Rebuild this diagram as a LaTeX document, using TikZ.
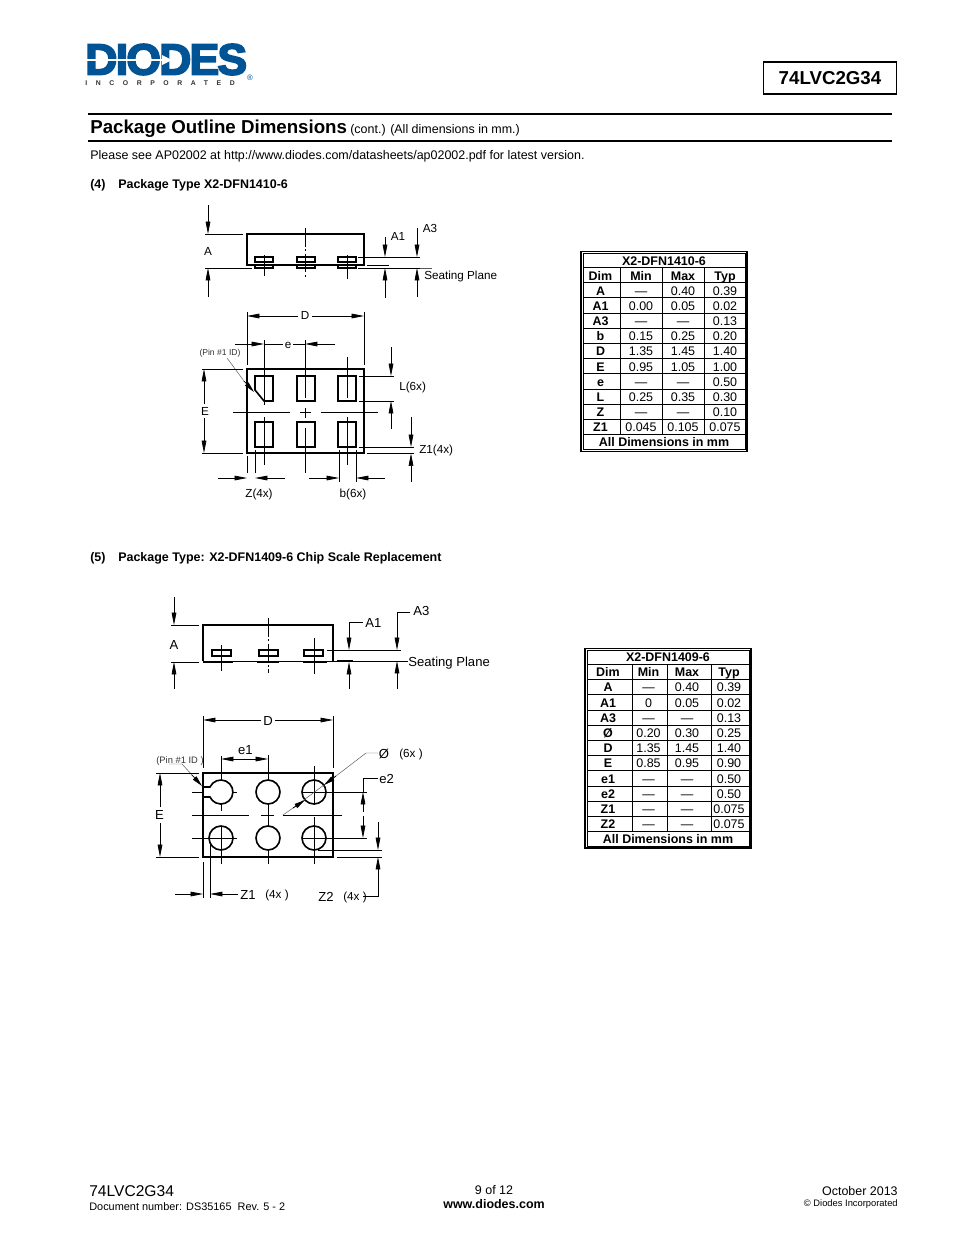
\documentclass[tikz,border=0pt]{standalone}
\usepackage{fontspec}
\setmainfont{Liberation Sans}
\newfontfamily\logofont[BoldFeatures={FakeBold=4,LetterSpace=-4}]{Liberation Sans}
\newfontfamily\logosub[BoldFeatures={LetterSpace=125}]{Liberation Sans}
\usetikzlibrary{arrows.meta}
\definecolor{logoblue}{RGB}{0,84,150}
\tikzstyle{dimline}=[-{Triangle[length=8pt,width=3pt]},line width=.45pt]
\tikzstyle{tipline}=[-{Triangle[length=7pt,width=3pt]},line width=.45pt]
\tikzstyle{thinline}=[line width=.45pt]
\tikzstyle{outline}=[line width=1.3pt]
\tikzstyle{padline}=[line width=1.05pt]
\tikzstyle{leader}=[line width=.3pt,black!65]
\tikzstyle{dimlabel}=[font=\fontsize{7.5}{9}\selectfont,inner sep=0pt,yshift=-.7pt]
\tikzstyle{bigdimlabel}=[font=\fontsize{8.4}{10}\selectfont,inner sep=0pt,yshift=-.7pt]
\tikzstyle{pintext}=[font=\fontsize{5.5}{6}\selectfont,inner sep=0pt,yshift=-.7pt]
\tikzstyle{cell}=[font=\fontsize{8}{9}\selectfont,inner sep=0pt,anchor=base]
\tikzstyle{headcell}=[font=\fontsize{8}{9}\selectfont\bfseries,inner sep=0pt,anchor=base]
\tikzstyle{pagetext}=[anchor=west,inner sep=0pt,yshift=-.7pt]
\begin{document}
\begin{tikzpicture}[x=0.6415pt,y=-0.6415pt]
    \path[use as bounding box,fill=white] (0,0) rectangle (954,1235);

    % logo
    \node[inner sep=0pt,anchor=west,text=logoblue,xscale=1.02,font=\logofont\bfseries\fontsize{28}{28}\selectfont] (logo) at (85,59.5) {DIODES};
    \draw[white,line width=.9pt] (85,60) -- (164,60);
    \fill[white] (162,55) -- (172,60) -- (162,65) -- cycle;
    \node[inner sep=0pt,anchor=west,text=black!80,font=\logosub\bfseries\fontsize{4.4}{5}\selectfont] (logosub) at (85,83) {INCORPORATED};
    \node[inner sep=0pt,text=logoblue,font=\fontsize{5}{5}\selectfont] (logoreg) at (250,78) {®};

    % head of the page
    \node[draw,line width=.75pt,minimum width=85.5pt,minimum height=20.5pt,inner sep=0pt,font=\fontsize{12}{13}\selectfont\bfseries] (partbox) at (830,78) {74LVC2G34};
    \draw[line width=1.2pt] (88,114) -- (892,114);
    \draw[line width=1.2pt] (88,141) -- (892,141);
    \node[pagetext,font=\fontsize{12}{14}\selectfont\bfseries] (title) at (90,128) {Package Outline Dimensions};
    \node[pagetext,font=\fontsize{8}{10}\selectfont] (titlecont) at (350,129) {(cont.) (All dimensions in mm.)};
    \node[pagetext,font=\fontsize{8}{10}\selectfont] (pleasesee) at (90,155) {Please see AP02002 at http://www.diodes.com/datasheets/ap02002.pdf for latest version.};
    \node[pagetext,font=\fontsize{8}{9}\selectfont\bfseries] (num4) at (90,184) {(4)};
    \node[pagetext,font=\fontsize{8}{9}\selectfont\bfseries] (type4) at (118,184) {Package Type X2-DFN1410-6};
    \node[pagetext,font=\fontsize{8}{9}\selectfont\bfseries] (num5) at (90,557) {(5)};
    \node[pagetext,font=\fontsize{8}{9}\selectfont\bfseries] (type5) at (118,557) {Package Type: X2-DFN1409-6 Chip Scale Replacement};

    % X2-DFN1410-6 side view
    \draw[outline] (247,234) rectangle (364,265);
    \foreach \x in {255,297,338}{
        \draw[padline] (\x,257) rectangle (\x+18,262);
        \draw[padline] (\x,265) rectangle (\x+18,268);
    }
    \draw[thinline] (264,255) -- (264,276);
    \draw[thinline,dash pattern=on 12pt off 1.5pt on 1.5pt off 1.5pt] (305,228) -- (305,279);
    \draw[thinline] (347,255) -- (347,279);
    \draw[thinline] (205,234) -- (243,234);
    \draw[thinline] (205,268) -- (252,268);
    \draw[dimline] (208,205) -- (208,234);
    \draw[dimline] (208,297) -- (208,268);
    \draw[thinline] (358,257) -- (420,257);
    \draw[thinline] (367,265) -- (389,265);
    \draw[thinline] (358,268) -- (420,268);
    \draw[leader] (420,268) -- (432,268);
    \draw[dimline] (385,237) -- (385,257);
    \draw[dimline] (385,298) -- (385,268);
    \draw[dimline] (417,228) -- (417,257);
    \draw[dimline] (417,297) -- (417,268);
    \node[dimlabel] (sideA) at (208,250) {A};
    \node[dimlabel] (sideAone) at (398,235) {A1};
    \node[dimlabel] (sideAthree) at (430,227) {A3};
    \node[dimlabel,anchor=west] (seatA) at (424,275) {Seating Plane};

    % X2-DFN1410-6 top view
    \draw[outline] (247,369) rectangle (364,453);
    \draw[padline] (255,376) -- (255,390) -- (264,401) -- (273,401) -- (273,376) -- cycle;
    \foreach \x in {297,338}{
        \draw[padline] (\x,376) rectangle (\x+18,401);
    }
    \foreach \x in {255,297,338}{
        \draw[padline] (\x,422) rectangle (\x+18,447);
    }
    \draw[thinline] (264,340) -- (264,405);
    \draw[thinline] (264,417) -- (264,465);
    \draw[thinline] (305,340) -- (305,398);
    \draw[thinline] (305,408) -- (305,418);
    \draw[thinline] (305,428) -- (305,473);
    \draw[thinline] (347,357) -- (347,398);
    \draw[thinline] (347,417) -- (347,465);
    \draw[thinline] (233,412) -- (290,412);
    \draw[thinline] (300,412) -- (311,412);
    \draw[thinline] (321,412) -- (378,412);
    \draw[thinline] (247,312) -- (247,365);
    \draw[thinline] (364,312) -- (364,365);
    \node[dimlabel] (topD) at (305,314) {D};
    \draw[dimline] (298,316) -- (247,316);
    \draw[dimline] (312,316) -- (364,316);
    \draw[dimline] (235,344) -- (264,344);
    \draw[thinline] (264,344) -- (283,344);
    \draw[dimline] (335,344) -- (305,344);
    \draw[thinline] (305,344) -- (293,344);
    \node[dimlabel] (tope) at (288,344) {e};
    \node[pintext,black!80] (pinA) at (220,352) {(Pin \#1 ID)};
    \draw[leader] (227,358) -- (244,381);
    \draw[tipline] (244,381) -- (254,392);
    \draw[thinline] (202,369) -- (243,369);
    \draw[thinline] (202,453) -- (243,453);
    \node[dimlabel] (topE) at (205,410) {E};
    \draw[dimline] (204,404) -- (204,369);
    \draw[dimline] (204,418) -- (204,453);
    \draw[thinline] (359,376) -- (394,376);
    \draw[thinline] (359,401) -- (394,401);
    \draw[dimline] (391,347) -- (391,376);
    \draw[dimline] (391,429) -- (391,401);
    \node[dimlabel,anchor=west] (topL) at (399,386) {L(6x)};
    \draw[thinline] (359,447) -- (414,447);
    \draw[thinline] (367,453.5) -- (414,453.5);
    \draw[dimline] (411,417) -- (411,447);
    \draw[dimline] (411,482) -- (411,453.5);
    \node[dimlabel,anchor=west] (topZone) at (419,449.5) {Z1(4x)};
    \draw[thinline] (247,456) -- (247,473);
    \draw[thinline] (255,450) -- (255,473);
    \draw[dimline] (218,478) -- (247,478);
    \draw[dimline] (285,478) -- (255,478);
    \node[dimlabel] (topZ) at (259,493) {Z(4x)};
    \draw[thinline] (339,450) -- (339,482);
    \draw[thinline] (356,450) -- (356,482);
    \draw[dimline] (309,478) -- (339,478);
    \draw[dimline] (385,478) -- (356,478);
    \node[dimlabel] (topb) at (353,493) {b(6x)};

    % X2-DFN1410-6 table
    \draw[line width=.75pt] (581,251.5) rectangle (747,451.5);
    \draw[line width=.5pt] (583,253.5) rectangle (745,449.5);
    \foreach \i in {0,...,11}{
        \draw[thinline,line width=.6pt] (583,267.6+15.17*\i) -- (745,267.6+15.17*\i);
    }
    \foreach \x in {620,662,704}{
        \draw[thinline,line width=.6pt] (\x,267.6) -- (\x,434.5);
    }
    \node[headcell] (taTitle) at (664,265) {X2-DFN1410-6};
    \node[headcell] (taFoot) at (664,446.5) {All Dimensions in mm};
    \foreach \dm/\lo/\hi/\ty [count=\i from 0] in {Dim/Min/Max/Typ}{
        \node[headcell] (taDim\i) at (600.5,280) {\dm};
        \node[headcell] (taMin\i) at (641,280) {\lo};
        \node[headcell] (taMax\i) at (683,280) {\hi};
        \node[headcell] (taTyp\i) at (725,280) {\ty};
    }
    \foreach \dm/\lo/\hi/\ty [count=\i] in {A/—/0.40/0.39,A1/0.00/0.05/0.02,A3/—/—/0.13,b/0.15/0.25/0.20,D/1.35/1.45/1.40,E/0.95/1.05/1.00,e/—/—/0.50,L/0.25/0.35/0.30,Z/—/—/0.10,Z1/0.045/0.105/0.075}{
        \node[headcell] (taDim\i) at (600.5,280+15.17*\i) {\dm};
        \node[cell] (taMin\i) at (641,280+15.17*\i) {\lo};
        \node[cell] (taMax\i) at (683,280+15.17*\i) {\hi};
        \node[cell] (taTyp\i) at (725,280+15.17*\i) {\ty};
    }

    % X2-DFN1409-6 side view
    \draw[outline] (203,661) -- (203,625) -- (333,625) -- (333,661);
    \draw[thinline,line width=.6pt] (203,661) -- (333,661);
    \foreach \x in {212,259,304}{
        \draw[padline,line width=.7pt] (\x,650) rectangle (\x+19,656);
    }
    \draw[padline] (203,662) -- (233,662);
    \draw[padline] (257,662) -- (279,662);
    \draw[padline] (303,662) -- (327,662);
    \draw[thinline] (221,645) -- (221,671);
    \draw[thinline,dash pattern=on 12pt off 1.5pt on 1.5pt off 1.5pt] (268,618) -- (268,673);
    \draw[thinline] (314,638) -- (314,674);
    \draw[thinline] (171,625) -- (199,625);
    \draw[thinline] (171,662) -- (199,662);
    \draw[dimline] (174,597) -- (174,625);
    \draw[dimline] (174,689) -- (174,662);
    \draw[thinline] (327,650) -- (401,650);
    \draw[thinline] (337,660) -- (353,660);
    \draw[thinline] (333,661) -- (408,661);
    \draw[dimline] (363,622) -- (349,622) -- (349,650);
    \draw[dimline] (349,689) -- (349,662);
    \draw[dimline] (410,612) -- (397,612) -- (397,650);
    \draw[dimline] (397,689) -- (397,661);
    \node[bigdimlabel] (botA) at (174,644) {A};
    \node[bigdimlabel,anchor=west] (botAone) at (365,621.5) {A1};
    \node[bigdimlabel,anchor=west] (botAthree) at (413,610) {A3};
    \node[bigdimlabel,anchor=west] (seatB) at (408,662) {Seating Plane};

    % X2-DFN1409-6 top view
    \draw[outline] (203,773) rectangle (333,857);
    \draw[padline] (203,787) -- (210,787) arc[start angle=204.6,end angle=515.4,radius=12] -- (203,797);
    \foreach \x/\y in {268/792,314/792,221/838,268/838,314/838}{
        \draw[padline] (\x,\y) circle[radius=12];
    }
    \draw[thinline] (221,756) -- (221,780);
    \draw[thinline] (221,804) -- (221,811);
    \draw[thinline] (221,826) -- (221,864);
    \draw[thinline] (268,755) -- (268,780);
    \draw[thinline] (268,804) -- (268,826);
    \draw[thinline] (268,850) -- (268,864);
    \draw[thinline] (314,766) -- (314,805);
    \draw[thinline] (314,817) -- (314,864);
    \draw[thinline] (192,792) -- (203,792);
    \draw[thinline] (233,792) -- (237,792);
    \draw[thinline] (303,792) -- (367,792);
    \draw[thinline] (192,838) -- (237,838);
    \draw[thinline] (303,838) -- (367,838);
    \draw[thinline] (192,815) -- (249,815);
    \draw[thinline] (261,815) -- (274,815);
    \draw[thinline] (283,815) -- (342,815);
    \draw[thinline] (203,716) -- (203,768);
    \draw[thinline] (333,716) -- (333,768);
    \node[bigdimlabel] (twoD) at (268,720) {D};
    \draw[dimline] (261,720) -- (203,720);
    \draw[dimline] (275,720) -- (333,720);
    \node[bigdimlabel] (twoeone) at (245.5,749) {e1};
    \draw[dimline] (245,759) -- (221,759);
    \draw[dimline] (245,759) -- (268,759);
    \node[pintext,black!80,font=\fontsize{6}{7}\selectfont] (pinB) at (180,759.5) {(Pin \#1 ID )};
    \draw[leader] (169,764) -- (182,764) -- (192,775);
    \draw[tipline] (192,775) -- (202,786);
    \draw[thinline] (156,773) -- (199,773);
    \draw[thinline] (156,857) -- (199,857);
    \node[bigdimlabel] (twoE) at (159.5,814) {E};
    \draw[dimline] (160,807) -- (160,773);
    \draw[dimline] (160,823) -- (160,857);
    \node[bigdimlabel] (twophi) at (384,753) {Ø};
    \node[dimlabel,anchor=west] (twosix) at (399,753) {(6x )};
    \draw[leader] (378,753) -- (366,753) -- (336,776);
    \draw[leader] (293,808) -- (283,815);
    \draw[leader] (336,776) -- (293,808);
    \draw[tipline] (336,776) -- (324,785);
    \draw[tipline] (293,808) -- (305,800);
    \node[bigdimlabel,anchor=west] (twoetwo) at (379,778) {e2};
    \draw[thinline] (378,778) -- (363,778) -- (363,792);
    \draw[dimline] (363,812) -- (363,792);
    \draw[dimline] (363,816) -- (363,838);
    \draw[thinline] (318,850) -- (382,850);
    \draw[thinline] (337,857) -- (382,857);
    \draw[dimline] (378,822) -- (378,850);
    \draw[dimline] (363,896) -- (378,896) -- (378,857);
    \draw[thinline] (203,862) -- (203,898);
    \draw[thinline] (210,842) -- (210,898);
    \draw[dimline] (175,894) -- (203,894);
    \draw[dimline] (238,894) -- (210,894);
    \node[bigdimlabel,anchor=west] (twoZone) at (240,894) {Z1};
    \node[dimlabel,anchor=west] (twoZonex) at (265,894) {(4x )};
    \node[bigdimlabel,anchor=west] (twoZtwo) at (318,896) {Z2};
    \node[dimlabel,anchor=west] (twoZtwox) at (343,896) {(4x )};

    % X2-DFN1409-6 table
    \draw[line width=.75pt] (585,648.5) rectangle (751,848);
    \draw[line width=.5pt] (587,650.5) rectangle (749,846);
    \foreach \i in {0,...,11}{
        \draw[thinline,line width=.6pt] (587,664.6+15.17*\i) -- (749,664.6+15.17*\i);
    }
    \foreach \x in {632,667,711}{
        \draw[thinline,line width=.6pt] (\x,664.6) -- (\x,831.5);
    }
    \node[headcell] (tbTitle) at (668,661.5) {X2-DFN1409-6};
    \node[headcell] (tbFoot) at (668,843.5) {All Dimensions in mm};
    \foreach \dm/\lo/\hi/\ty [count=\i from 0] in {Dim/Min/Max/Typ}{
        \node[headcell] (tbDim\i) at (608,676.8) {\dm};
        \node[headcell] (tbMin\i) at (648.5,676.8) {\lo};
        \node[headcell] (tbMax\i) at (687,676.8) {\hi};
        \node[headcell] (tbTyp\i) at (729,676.8) {\ty};
    }
    \foreach \dm/\lo/\hi/\ty [count=\i] in {A/—/0.40/0.39,A1/0/0.05/0.02,A3/—/—/0.13,Ø/0.20/0.30/0.25,D/1.35/1.45/1.40,E/0.85/0.95/0.90,e1/—/—/0.50,e2/—/—/0.50,Z1/—/—/0.075,Z2/—/—/0.075}{
        \node[headcell] (tbDim\i) at (608,676.8+15.17*\i) {\dm};
        \node[cell] (tbMin\i) at (648.5,676.8+15.17*\i) {\lo};
        \node[cell] (tbMax\i) at (687,676.8+15.17*\i) {\hi};
        \node[cell] (tbTyp\i) at (729,676.8+15.17*\i) {\ty};
    }

    % foot of the page
    \node[pagetext,font=\fontsize{10}{12}\selectfont] (footpart) at (89,1190) {74LVC2G34};
    \node[pagetext,font=\fontsize{7}{9}\selectfont] (footdoc) at (89,1205.5) {Document number: DS35165\ \ Rev. 5 - 2};
    \node[inner sep=0pt,font=\fontsize{8}{9}\selectfont] (footpage) at (494,1190) {9 of 12};
    \node[inner sep=0pt,font=\fontsize{8}{9}\selectfont\bfseries] (footweb) at (494,1204) {www.diodes.com};
    \node[anchor=east,inner sep=0pt,font=\fontsize{8}{10}\selectfont] (footdate) at (898,1191) {October 2013};
    \node[anchor=east,inner sep=0pt,font=\fontsize{6}{7}\selectfont] (footcopy) at (898,1204) {© Diodes Incorporated};
\end{tikzpicture}
\end{document}
